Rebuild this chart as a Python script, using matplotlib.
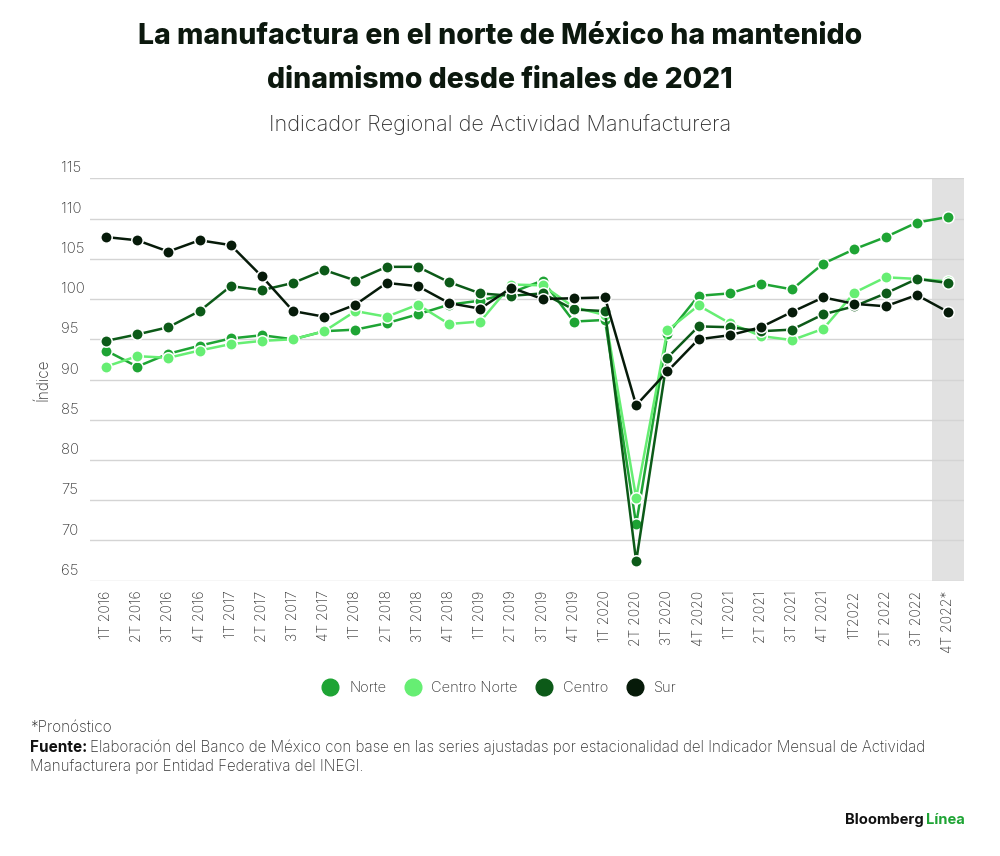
import numpy as np
import matplotlib
matplotlib.use("Agg")
import matplotlib.pyplot as plt
from matplotlib.lines import Line2D
from matplotlib.transforms import blended_transform_factory

# DATA
QUARTERS = ["1T 2016", "2T 2016", "3T 2016", "4T 2016",
            "1T 2017", "2T 2017", "3T 2017", "4T 2017",
            "1T 2018", "2T 2018", "3T 2018", "4T 2018",
            "1T 2019", "2T 2019", "3T 2019", "4T 2019",
            "1T 2020", "2T 2020", "3T 2020", "4T 2020",
            "1T 2021", "2T 2021", "3T 2021", "4T 2021",
            "1T2022", "2T 2022", "3T 2022", "4T 2022*"]

NORTE = [93.6, 91.6, 93.2, 94.2, 95.1, 95.5, 95.0, 96.0,
         96.2, 97.0, 98.1, 99.3, 99.8, 100.8, 102.3, 97.2,
         97.4, 72.0, 95.6, 100.4, 100.7, 101.9, 101.2, 104.4,
         106.2, 107.7, 109.5, 110.2]
CENTRO_NORTE = [91.6, 92.9, 92.7, 93.6, 94.4, 94.8, 95.0, 96.0,
                98.5, 97.8, 99.3, 96.9, 97.2, 101.8, 101.7, 99.0,
                98.0, 75.3, 96.1, 99.2, 97.0, 95.4, 94.9, 96.3,
                100.8, 102.7, 102.5, 102.2]
CENTRO = [94.8, 95.6, 96.5, 98.5, 101.6, 101.1, 102.0, 103.6,
          102.3, 104.0, 104.0, 102.1, 100.7, 100.4, 100.7, 98.7,
          98.5, 67.4, 92.7, 96.6, 96.5, 96.0, 96.2, 98.1,
          99.1, 100.7, 102.5, 102.0]
SUR = [107.7, 107.3, 105.9, 107.3, 106.7, 102.8, 98.5, 97.8,
       99.3, 102.0, 101.6, 99.5, 98.8, 101.4, 100.0, 100.1,
       100.2, 86.8, 91.0, 95.0, 95.5, 96.5, 98.4, 100.2,
       99.4, 99.1, 100.5, 98.4]

SERIES_NAMES = ["Norte", "Centro Norte", "Centro", "Sur"]
Y_TICKS = [65, 70, 75, 80, 85, 90, 95, 100, 105, 110, 115]

# STYLE
COLORS = ["#1EA434", "#66EE73", "#0C5A18", "#061A09"]
TEXT = "#333333"
FONT = "Inter"
plt.rcParams["font.family"] = [FONT, "DejaVu Sans"]

fig = plt.figure(figsize=(10, 8.56), dpi=100)
ax = fig.add_axes([0.0904, 0.3216, 0.8732, 0.4701])

x = np.arange(len(QUARTERS))
for vals, name, col in zip([NORTE, CENTRO_NORTE, CENTRO, SUR], SERIES_NAMES, COLORS):
    ax.plot(x, vals, color=col, lw=1.8, marker="o", ms=8.2,
            markeredgecolor="white", markeredgewidth=1.1, label=name, zorder=3)

# forecast band
ax.axvspan(len(QUARTERS) - 1.5, len(QUARTERS) - 0.5, color="#e1e1e1", lw=0, zorder=0)

ax.set_xlim(-0.5, len(QUARTERS) - 0.5)
ax.set_ylim(65, 115)
ax.set_yticks(Y_TICKS)
ax.yaxis.grid(True, color="#d4d4d4", lw=1, zorder=1)
ax.set_axisbelow(True)
for s in ax.spines.values():
    s.set_visible(False)
ax.tick_params(length=0)
ax.set_yticklabels([])

trans = blended_transform_factory(ax.transAxes, ax.transData)
for t in Y_TICKS:
    ax.text(-0.034, t + 0.35, str(t), transform=trans, ha="left", va="bottom",
            fontsize=10.8, color=TEXT, fontweight="light")

ax.set_xticks(x)
ax.set_xticklabels(QUARTERS, rotation=90, fontsize=10, color=TEXT, fontweight="light")
ax.tick_params(axis="x", pad=7)

ax.set_ylabel("Índice", fontsize=11, color=TEXT, labelpad=25, fontweight="light")

# titles
fig.text(0.5, 1 - 36 / 856, "La manufactura en el norte de México ha mantenido",
         ha="center", va="center", fontsize=20.4, fontweight="heavy", color="#0c180e")
fig.text(0.5, 1 - 80 / 856, "dinamismo desde finales de 2021",
         ha="center", va="center", fontsize=20.4, fontweight="heavy", color="#0c180e")
fig.text(0.5, 1 - 125 / 856, "Indicador Regional de Actividad Manufacturera",
         ha="center", va="center", fontsize=15.6, fontweight="light", color=TEXT)

# legend
handles = [Line2D([], [], ls="none", marker="o", ms=12, color=c, markeredgecolor=c)
           for c in COLORS]
fig.legend(handles, SERIES_NAMES, loc="center", bbox_to_anchor=(0.496, 1 - 688 / 856),
           ncol=4, frameon=False, handletextpad=0.3, columnspacing=0.8,
           labelcolor=TEXT, prop={"family": [FONT], "weight": "light", "size": 10.5})

# footer
fig.text(0.03, 1 - 727 / 856, "*Pronóstico", ha="left", va="center",
         fontsize=11, color=TEXT, fontweight="light")
renderer = fig.canvas.get_renderer()
f1 = fig.text(0.03, 1 - 747 / 856, "Fuente:", ha="left", va="center",
              fontsize=11, color="#111111", fontweight="bold")
bb = f1.get_window_extent(renderer)
fig.text(bb.x1 / 1000 + 0.003, 1 - 747 / 856,
         "Elaboración del Banco de México con base en las series ajustadas por estacionalidad "
         "del Indicador Mensual de Actividad",
         ha="left", va="center", fontsize=10.9, color=TEXT, fontweight="light")
fig.text(0.03, 1 - 766 / 856, "Manufacturera por Entidad Federativa del INEGI.",
         ha="left", va="center", fontsize=10.9, color=TEXT, fontweight="light")

b2 = fig.text(0.965, 1 - 820 / 856, "Línea", ha="right", va="center",
              fontsize=10.6, color=COLORS[0], fontweight="bold")
bb2 = b2.get_window_extent(renderer)
fig.text(bb2.x0 / 1000 - 0.003, 1 - 820 / 856, "Bloomberg", ha="right", va="center",
         fontsize=10.6, color="#111111", fontweight="bold")

fig.savefig("out.png", dpi=100)
